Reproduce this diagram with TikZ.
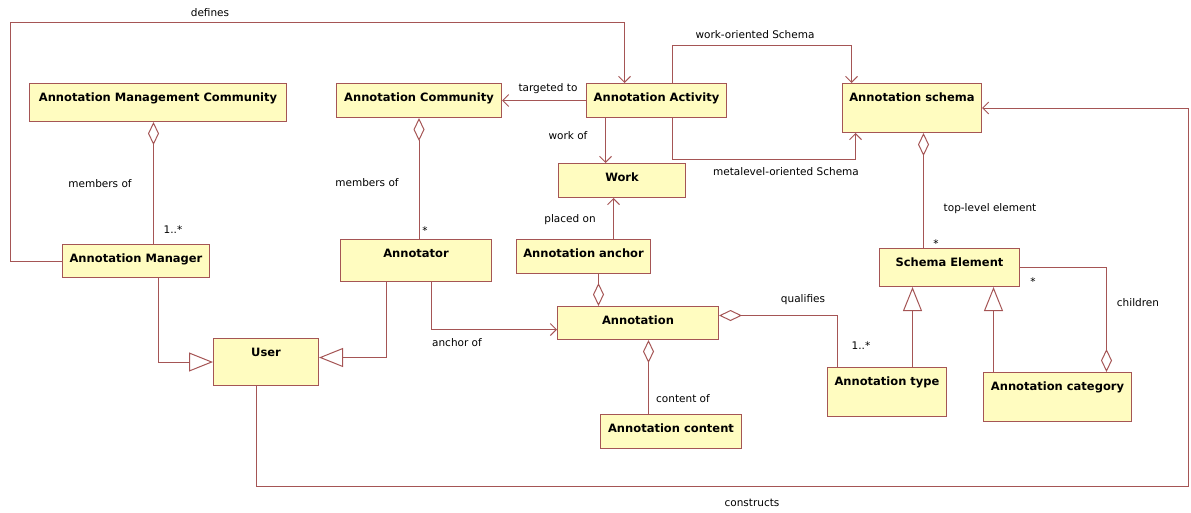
\documentclass[tikz,border=0pt]{standalone}
\usepackage{fontspec}
\setmainfont{DejaVu Sans}
\usetikzlibrary{arrows.meta}
\definecolor{umlred}{RGB}{165,85,85}
\definecolor{umlfill}{RGB}{255,252,192}

\begin{document}
\begin{tikzpicture}[x=1pt,y=-1pt,
  classbox/.style 2 args={draw=umlred,fill=umlfill,line width=1pt,anchor=north west,inner sep=3pt,
    minimum width=#1,text height=15pt,text depth=#2,font=\fontsize{11.5}{13}\selectfont\bfseries},
  lbl/.style={inner sep=0pt,font=\fontsize{10.5}{12}\selectfont},
  conn/.style={draw=umlred,line width=1pt},
  assoc/.style={conn,-{Straight Barb[length=6pt,width=12pt]}},
  agg/.style={conn,{Diamond[open,length=23pt,width=11pt]}-},
  gen/.style={conn,-{Triangle[open,length=24pt,width=19pt]}}]
\useasboundingbox (0,0) rectangle (1191,512);

\node[classbox={257pt}{17pt}] (amc) at (29,83) {Annotation Management Community};
\node[classbox={165pt}{13pt}] (acom) at (336,83) {Annotation Community};
\node[classbox={140pt}{13pt}] (act) at (586,83) {Annotation Activity};
\node[classbox={139pt}{28pt}] (schema) at (842,83) {Annotation schema};
\node[classbox={127pt}{13pt}] (work) at (558,163) {Work};
\node[classbox={147pt}{12pt}] (mgr) at (62,244) {Annotation Manager};
\node[classbox={151pt}{21pt}] (annotator) at (340,239) {Annotator};
\node[classbox={134pt}{13pt}] (anchor) at (516,239) {Annotation anchor};
\node[classbox={140pt}{17pt}] (se) at (879,248) {Schema Element};
\node[classbox={105pt}{26pt}] (user) at (213,338) {User};
\node[classbox={161pt}{12pt}] (annot) at (557,306) {Annotation};
\node[classbox={119pt}{28pt}] (type) at (827,367) {Annotation type};
\node[classbox={148pt}{28pt}] (cat) at (983,372) {Annotation category};
\node[classbox={141pt}{13pt}] (content) at (600,414) {Annotation content};

\coordinate (defcorner) at (10,22);
\coordinate (conscorner) at (1188,486);

\draw[assoc] (mgr.west) -| (defcorner) -| ([xshift=-32pt]act.north);
\draw[agg] ([xshift=-4.5pt]amc.south) -- ([xshift=17.5pt]mgr.north);
\draw[agg] (acom.south) -- ([xshift=3pt]annotator.north);
\draw[assoc] (act.west) -- (acom.east);
\draw[assoc] ([xshift=-51pt]act.south) -- ([xshift=-16.5pt]work.north);
\draw[assoc] ([xshift=30pt]anchor.north) -- ([xshift=-8.5pt]work.south);
\draw[assoc] ([xshift=16pt]act.north) -- ++(0,-38) -| ([xshift=-60.5pt]schema.north);
\draw[assoc] ([xshift=16pt]act.south) -- ++(0,41) -| ([xshift=-56.5pt]schema.south);
\draw[agg] ([xshift=11.5pt]schema.south) -- ([xshift=-26pt]se.north);
\draw[gen] ([xshift=-29.5pt]annotator.south) |- ([yshift=4.5pt]user.east);
\draw[gen] ([xshift=22.5pt]mgr.south) |- (user.west);
\draw[assoc] ([xshift=15.5pt]annotator.south) |- ([yshift=-6.5pt]annot.west);
\draw[agg] ([xshift=-39.5pt]annot.north) -- ([xshift=15pt]anchor.south);
\draw[agg] ([xshift=10.5pt]annot.south) -- ([xshift=-22.5pt]content.north);
\draw[agg] ([yshift=7.5pt]annot.east) -| ([xshift=-49.5pt]type.north);
\draw[gen] ([xshift=25.5pt]type.north) -- ([xshift=-37pt]se.south);
\draw[gen] ([xshift=-64pt]cat.north) -- ([xshift=44pt]se.south);
\draw[agg] ([xshift=49pt]cat.north) |- (se.east);
\draw[assoc] ([xshift=-9.5pt]user.south) |- (conscorner) |- (schema.east);

\node[lbl] (l-defines) at (210,13) {defines};
\node[lbl] (l-target) at (548,89) {targeted to};
\node[lbl] (l-workof) at (568,136) {work of};
\node[lbl] (l-placed) at (570,220) {placed on};
\node[lbl] (l-workor) at (755,35) {work-oriented Schema};
\node[lbl] (l-metaor) at (786,172) {metalevel-oriented Schema};
\node[lbl] (l-memmgr) at (100,184) {members of};
\node[lbl] (m-mgr) at (173,230) {1..*};
\node[lbl] (l-memann) at (367,183) {members of};
\node[lbl] (m-ann) at (425,231) {*};
\node[lbl] (l-toplvl) at (990,209) {top-level element};
\node[lbl] (m-se) at (936,244) {*};
\node[lbl] (l-anchor) at (457,343) {anchor of};
\node[lbl] (l-content) at (683,399) {content of};
\node[lbl] (l-qual) at (803,300) {qualifies};
\node[lbl] (m-type) at (861,346) {1..*};
\node[lbl] (l-child) at (1138,303) {children};
\node[lbl] (m-child) at (1033,282) {*};
\node[lbl] (l-cons) at (752,503) {constructs};
\end{tikzpicture}
\end{document}
